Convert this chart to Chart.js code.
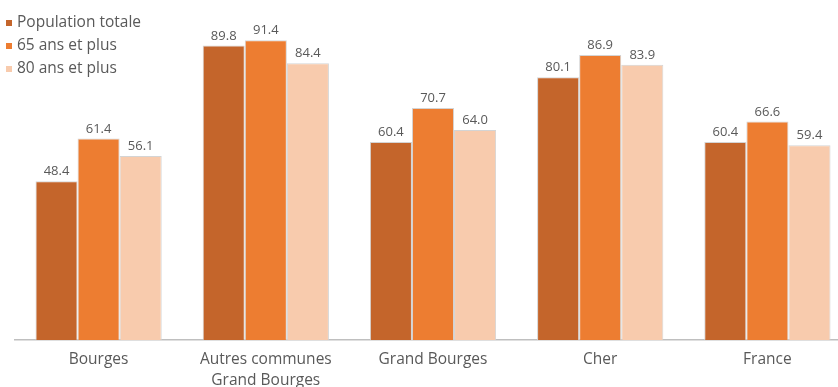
<!DOCTYPE html>
<html>
<head>
<meta charset="utf-8">
<script src="https://cdn.jsdelivr.net/npm/chart.js@4"></script>
<style>
  html, body { margin: 0; padding: 0; background: #fff; overflow: hidden; }
  #wrap { position: relative; width: 851px; height: 387px; }
</style>
</head>
<body>
<div id="wrap"><canvas id="grafico"></canvas></div>
<script>
// Données du graphique
const categories = ['Bourges', ['Autres communes', 'Grand Bourges'], 'Grand Bourges', 'Cher', 'France'];
const series = ['Population totale', '65 ans et plus', '80 ans et plus'];
const populationTotale = [48.4, 89.8, 60.4, 80.1, 60.4];
const ans65 = [61.4, 91.4, 70.7, 86.9, 66.6];
const ans80 = [56.1, 84.4, 64.0, 83.9, 59.4];

const couleurs = ['#C4652B', '#ED7D31', '#F8CBAD'];
const texte = '#595959';
const police = "'Open Sans', sans-serif";

// Étiquettes de valeur au-dessus des barres
const etiquettes = {
    id: 'etiquettes',
    afterDatasetsDraw(chart) {
        const ctx = chart.ctx;
        ctx.save();
        ctx.font = '13px ' + police;
        ctx.fillStyle = texte;
        ctx.textAlign = 'center';
        ctx.textBaseline = 'bottom';
        chart.data.datasets.forEach((ds, i) => {
            chart.getDatasetMeta(i).data.forEach((bar, j) => {
                ctx.fillText(ds.data[j].toFixed(1), bar.x, bar.y - 3);
            });
        });
        ctx.restore();
    }
};

// Légende verticale en haut à gauche
const legende = {
    id: 'legende',
    afterDraw(chart) {
        const ctx = chart.ctx;
        ctx.save();
        ctx.font = '15.5px ' + police;
        ctx.textAlign = 'left';
        ctx.textBaseline = 'middle';
        chart.data.datasets.forEach((ds, i) => {
            const y = 23 + i * 23;
            ctx.fillStyle = ds.backgroundColor;
            ctx.fillRect(6, y - 3, 6, 6);
            ctx.fillStyle = texte;
            ctx.fillText(ds.label, 17, y);
        });
        ctx.restore();
    }
};

const donnees = [populationTotale, ans65, ans80];

new Chart(document.getElementById('grafico'), {
    type: 'bar',
    data: {
        labels: categories,
        datasets: series.map((nom, i) => ({
            label: nom,
            data: donnees[i],
            backgroundColor: couleurs[i],
            borderColor: '#D4D4D4',
            borderWidth: 1,
            categoryPercentage: 0.755,
            barPercentage: 1.0
        }))
    },
    options: {
        responsive: true,
        maintainAspectRatio: false,
        animation: false,
        layout: { padding: { left: 15, right: 0, top: 12, bottom: 0 } },
        plugins: {
            tooltip: { enabled: false },
            legend: { display: false }
        },
        scales: {
            x: {
                grid: { display: false, drawTicks: false },
                border: { display: true, color: '#BFBFBF', width: 1.5 },
                ticks: {
                    color: texte,
                    padding: 10,
                    maxRotation: 0,
                    font: { family: police, size: 15.5, lineHeight: 1.3 }
                },
                afterFit(scale) { scale.height = 47; }
            },
            y: {
                display: false,
                min: 0,
                max: 100
            }
        }
    },
    plugins: [etiquettes, legende]
});
</script>
</body>
</html>
